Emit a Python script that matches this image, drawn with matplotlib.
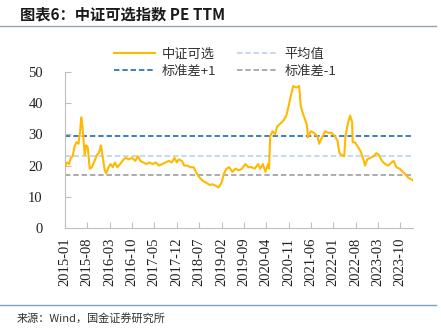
import matplotlib
matplotlib.use("Agg")
import matplotlib.pyplot as plt
from matplotlib.lines import Line2D
import pandas as pd

plt.rcParams['font.family'] = ['Noto Sans CJK SC', 'DejaVu Sans']

# ---- data ----
dates = [
    "2015-01-05", "2015-01-20", "2015-02-10", "2015-02-25", "2015-03-15", "2015-04-01",
    "2015-04-20", "2015-05-10", "2015-05-25", "2015-06-05", "2015-06-15", "2015-06-30",
    "2015-07-08", "2015-07-20", "2015-08-05", "2015-08-25", "2015-09-15", "2015-10-10",
    "2015-11-01", "2015-11-20", "2015-12-10", "2015-12-25", "2016-01-15", "2016-01-28",
    "2016-02-20", "2016-03-10", "2016-04-01", "2016-04-20", "2016-05-15", "2016-06-10",
    "2016-07-01", "2016-08-01", "2016-09-01", "2016-10-01", "2016-11-01", "2016-11-25",
    "2016-12-20", "2017-01-15", "2017-02-15", "2017-03-15", "2017-04-15", "2017-05-15",
    "2017-06-15", "2017-07-15", "2017-08-15", "2017-09-15", "2017-10-15", "2017-11-10",
    "2017-12-01", "2017-12-20", "2018-01-20", "2018-02-10", "2018-03-10", "2018-04-10",
    "2018-05-10", "2018-06-10", "2018-07-10", "2018-08-10", "2018-09-10", "2018-10-10",
    "2018-11-10", "2018-12-10", "2019-01-05", "2019-02-01", "2019-02-25", "2019-03-20",
    "2019-04-15", "2019-05-15", "2019-06-15", "2019-07-15", "2019-08-15", "2019-09-15",
    "2019-10-15", "2019-11-15", "2019-12-15", "2020-01-15", "2020-02-05", "2020-03-01",
    "2020-03-25", "2020-04-20", "2020-04-29", "2020-05-10", "2020-06-01", "2020-06-25",
    "2020-07-15", "2020-08-15", "2020-09-15", "2020-10-10", "2020-11-01", "2020-11-20",
    "2020-12-15", "2021-01-15", "2021-02-10", "2021-02-25", "2021-03-15", "2021-04-05",
    "2021-04-25", "2021-05-05", "2021-06-01", "2021-07-01", "2021-08-01", "2021-08-20",
    "2021-09-15", "2021-10-15", "2021-11-15", "2021-12-15", "2022-01-15", "2022-02-10",
    "2022-03-01", "2022-03-20", "2022-04-15", "2022-04-28", "2022-05-20", "2022-06-10",
    "2022-06-30", "2022-07-05", "2022-07-25", "2022-08-25", "2022-09-20", "2022-10-20",
    "2022-10-31", "2022-11-20", "2022-12-20", "2023-01-20", "2023-02-15", "2023-03-10",
    "2023-04-10", "2023-05-10", "2023-06-10", "2023-07-10", "2023-07-31", "2023-08-25",
    "2023-09-25", "2023-10-25", "2023-11-25", "2023-12-20", "2024-01-20", "2024-01-31",
]
pe_values = [
    20.0, 21.0, 20.5, 22.5, 23.0, 26.0,
    27.5, 27.0, 31.0, 35.5, 33.0, 27.0,
    23.5, 26.5, 26.0, 19.0, 19.5, 21.5,
    23.5, 24.0, 26.5, 23.0, 18.5, 17.5,
    19.5, 20.5, 19.5, 21.0, 19.5, 20.5,
    21.5, 22.5, 22.0, 22.5, 21.5, 23.0,
    21.5, 21.0, 20.5, 21.0, 20.5, 21.0,
    20.0, 20.5, 21.0, 21.5, 21.0, 22.5,
    21.0, 22.0, 21.5, 20.0, 20.0, 19.5,
    19.5, 17.5, 16.0, 15.0, 14.5, 13.8,
    14.0, 13.5, 13.0, 14.5, 17.5, 19.0,
    19.5, 18.0, 19.0, 18.5, 19.0, 20.5,
    19.5, 19.5, 19.0, 20.5, 19.0, 20.5,
    18.0, 20.5, 19.0, 29.5, 31.0, 30.0,
    32.5, 33.5, 34.5, 36.0, 39.0, 42.0,
    45.5, 45.0, 45.5, 39.0, 37.0, 35.0,
    33.0, 29.0, 31.0, 30.5, 29.5, 27.0,
    29.0, 31.0, 30.5, 30.5, 29.5, 28.0,
    24.0, 23.5, 23.0, 29.5, 33.5, 36.0,
    34.0, 27.5, 27.5, 26.0, 24.5, 21.5,
    20.0, 22.0, 22.5, 23.0, 24.0, 23.5,
    21.5, 20.5, 20.0, 21.0, 21.5, 19.5,
    19.0, 18.0, 17.0, 16.0, 15.5, 15.2,
]
mean_value = 23.1
std_plus_1 = 29.4
std_minus_1 = 16.9
tick_labels = ["2015-01", "2015-08", "2016-03", "2016-10", "2017-05", "2017-12",
               "2018-07", "2019-02", "2019-09", "2020-04", "2020-11", "2021-06",
               "2022-01", "2022-08", "2023-03", "2023-10"]
series_names = ["中证可选", "平均值", "标准差+1", "标准差-1"]

# ---- figure ----
fig = plt.figure(figsize=(4.41, 3.29), dpi=100)
W, H = 441, 329
ax = fig.add_axes([65 / W, 1 - 228 / H, (413 - 65) / W, (228 - 72) / H])

x = pd.to_datetime(dates)
c_line = "#FFB900"
c_plus = "#2E75B6"
c_mean = "#BDD7EE"
c_minus = "#A6A6A6"
dash = (3, 1.6)

ax.axhline(std_plus_1, color=c_plus, lw=1.3, dashes=dash, zorder=1)
ax.axhline(mean_value, color=c_mean, lw=1.3, dashes=dash, zorder=1)
ax.axhline(std_minus_1, color=c_minus, lw=1.3, dashes=dash, zorder=1)
ax.plot(x, pe_values, color=c_line, lw=1.5, zorder=3)

ax.set_ylim(0, 50)
ax.set_yticks(range(0, 51, 10))
ax.set_xlim(x[0], x[-1])
tick_pos = pd.to_datetime([t + "-01" for t in tick_labels])
ax.set_xticks(tick_pos, labels=tick_labels)

for s in ["top", "right"]:
    ax.spines[s].set_visible(False)
for s in ["left", "bottom"]:
    ax.spines[s].set_color("#BFBFBF")
    ax.spines[s].set_linewidth(0.8)
ax.tick_params(axis="both", labelfontfamily="Liberation Serif", labelsize=10.5,
               labelcolor="#222222")
ax.tick_params(axis="y", direction="in", length=4, color="#BFBFBF", pad=16)
ax.tick_params(axis="x", direction="in", length=4, color="#BFBFBF", pad=7,
               labelrotation=90)

# legend
handles = [
    Line2D([], [], color=c_line, lw=1.5),
    Line2D([], [], color=c_plus, lw=1.3, dashes=dash),
    Line2D([], [], color=c_mean, lw=1.3, dashes=dash),
    Line2D([], [], color=c_minus, lw=1.3, dashes=dash),
]
labels = [series_names[0], series_names[2], series_names[1], series_names[3]]
leg = fig.legend(handles, labels, ncol=2, loc="upper left",
                 bbox_to_anchor=(114 / W, 1 - 48 / H), bbox_transform=fig.transFigure,
                 frameon=False, fontsize=9.5, handlelength=3.1, handletextpad=0.5,
                 columnspacing=1.6, labelspacing=0.3, borderpad=0, borderaxespad=0)
for t in leg.get_texts():
    t.set_color("#333333")

# title and rules
fig.text(20 / W, 1 - 14 / H, "图表6：中证可选指数 PE TTM", fontsize=11, fontweight="bold",
         style="italic", color="#1a1a1a", va="center", ha="left")
fig.add_artist(Line2D([0, 436 / W], [1 - 26 / H, 1 - 26 / H], color="#8FA6B7", lw=1.0,
                      transform=fig.transFigure))
fig.add_artist(Line2D([0, 436 / W], [1 - 305 / H, 1 - 305 / H], color="#7FA3BA", lw=1.0,
                      transform=fig.transFigure))
fig.text(17 / W, 1 - 318 / H, "来源：Wind，国金证券研究所", fontsize=8, color="#333333",
         va="center", ha="left")

fig.savefig("out.png", dpi=100)
